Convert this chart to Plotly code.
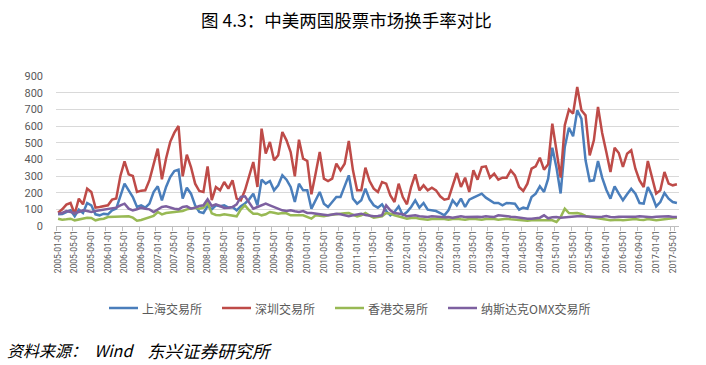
import plotly.graph_objects as go
import pandas as pd

# monthly categories 2005-01 .. 2017-06
dates = [d.strftime("%Y-%m-%d") for d in pd.date_range("2005-01-01", "2017-06-01", freq="MS")]

shanghai = [70, 72, 84, 94, 58, 98, 78, 138, 124, 70, 64, 74, 70, 94, 104, 174, 254, 214, 174, 114,
            124, 110, 134, 204, 238, 154, 234, 294, 330, 338, 164, 230, 194, 124, 84, 78, 120, 100,
            124, 118, 124, 110, 114, 94, 118, 135, 160, 194, 124, 278, 254, 270, 214, 244, 304, 278,
            234, 144, 254, 214, 214, 104, 154, 204, 134, 114, 144, 174, 174, 234, 304, 164, 134, 154,
            224, 160, 124, 110, 130, 90, 64, 84, 118, 64, 84, 114, 154, 110, 138, 98, 94, 90, 78, 64,
            94, 154, 124, 164, 114, 158, 170, 184, 194, 170, 154, 138, 138, 124, 138, 134, 134, 98,
            110, 104, 174, 194, 238, 204, 284, 470, 350, 195, 474, 590, 538, 694, 644, 394, 270, 274,
            390, 290, 218, 164, 238, 194, 154, 190, 224, 194, 138, 134, 234, 184, 118, 144, 198, 164,
            144, 138]

shenzhen = [80, 100, 128, 138, 72, 164, 130, 224, 204, 110, 114, 118, 124, 158, 165, 300, 388, 310, 300, 205,
            212, 214, 275, 370, 464, 280, 405, 505, 560, 600, 298, 428, 354, 254, 210, 204, 358, 155,
            234, 214, 264, 224, 274, 164, 154, 214, 304, 384, 234, 584, 434, 504, 394, 424, 564, 514,
            444, 298, 518, 404, 390, 190, 314, 444, 284, 270, 284, 374, 334, 374, 510, 334, 214, 214,
            350, 270, 224, 204, 264, 254, 184, 144, 254, 174, 130, 234, 310, 214, 244, 214, 230, 214,
            178, 158, 164, 244, 318, 234, 290, 204, 334, 278, 354, 358, 290, 314, 278, 290, 290, 334,
            304, 234, 210, 254, 344, 358, 410, 338, 370, 614, 450, 290, 604, 698, 674, 834, 694, 664,
            424, 514, 714, 558, 444, 324, 470, 438, 354, 434, 454, 344, 274, 234, 390, 290, 194, 214,
            324, 254, 244, 250]

hongkong = [44, 38, 40, 44, 34, 40, 44, 50, 48, 34, 40, 44, 54, 54, 54, 58, 58, 58, 50, 32,
            36, 44, 50, 60, 84, 70, 78, 80, 84, 88, 90, 100, 104, 110, 104, 110, 140, 76,
            66, 64, 70, 66, 62, 58, 100, 124, 94, 74, 74, 64, 70, 84, 80, 74, 78, 76,
            64, 66, 64, 64, 56, 44, 64, 60, 58, 64, 68, 70, 74, 76, 78, 70, 58, 64,
            78, 62, 50, 54, 58, 78, 74, 64, 58, 54, 44, 48, 50, 44, 42, 38, 42, 44,
            44, 42, 38, 42, 44, 40, 38, 42, 44, 40, 38, 42, 44, 42, 38, 40, 44, 40,
            38, 34, 36, 32, 34, 34, 36, 36, 38, 34, 24, 54, 104, 78, 76, 78, 72, 60,
            54, 50, 44, 40, 38, 34, 36, 38, 34, 36, 38, 42, 38, 36, 42, 36, 34, 38,
            40, 44, 46, 50]

nasdaq = [74, 78, 90, 86, 78, 84, 94, 90, 84, 90, 94, 98, 100, 104, 110, 124, 134, 104, 94, 100,
          110, 104, 100, 84, 100, 114, 118, 110, 104, 100, 114, 118, 104, 110, 120, 124, 160, 120,
          130, 120, 108, 110, 114, 130, 174, 178, 138, 104, 114, 124, 134, 124, 114, 104, 94, 90,
          94, 88, 84, 90, 78, 78, 76, 70, 68, 64, 70, 74, 70, 64, 58, 64, 68, 74,
          66, 62, 58, 60, 64, 124, 94, 78, 72, 70, 58, 62, 64, 58, 56, 54, 58, 56,
          50, 52, 54, 50, 54, 58, 54, 56, 58, 56, 54, 58, 56, 54, 64, 60, 58, 56,
          54, 50, 48, 44, 44, 46, 50, 64, 46, 52, 54, 50, 52, 58, 56, 58, 58, 56,
          58, 56, 54, 56, 60, 54, 52, 56, 56, 54, 52, 56, 58, 56, 54, 52, 56, 58,
          56, 58, 54, 54]

series_names = ["上海交易所", "深圳交易所", "香港交易所", "纳斯达克OMX交易所"]
series_colors = ["#4A7EBB", "#BE4B48", "#98B954", "#7D60A0"]
series_values = [shanghai, shenzhen, hongkong, nasdaq]

y_ticks = [0, 100, 200, 300, 400, 500, 600, 700, 800, 900]
x_tick_labels = dates[::4]

# plot-area geometry in pixels (for placing the hand-drawn legend)
PL, PR, PT, PB = 56, 679, 76, 226
def px_x(px):
    return (px - PL) / (PR - PL)
def px_y(py):
    return (PB - py) / (PB - PT)

fig = go.Figure()
for name, color, vals in zip(series_names, series_colors, series_values):
    fig.add_trace(go.Scatter(x=dates, y=vals, name=name, mode="lines",
                             line=dict(color=color, width=2.5), showlegend=False))

fig.update_layout(
    width=706, height=365,
    margin=dict(l=PL, r=706 - PR, t=PT, b=365 - PB),
    paper_bgcolor="white", plot_bgcolor="white",
    font=dict(family="Roboto, 'Noto Sans CJK SC'", color="#595959"),
    showlegend=False,
)

fig.update_xaxes(type="category", range=[-0.5, len(dates) - 0.5],
                 tickmode="array", tickvals=x_tick_labels, ticktext=x_tick_labels,
                 tickangle=-90, tickfont=dict(size=8.5, color="#595959"),
                 showgrid=False, showline=True, linecolor="#BFBFBF", linewidth=1,
                 ticks="outside", ticklen=4, tickcolor="#BFBFBF", tickson="boundaries",
                 zeroline=False)
fig.update_yaxes(range=[0, 900], tickmode="array", tickvals=y_ticks,
                 tickfont=dict(size=11, color="#595959"),
                 showgrid=True, gridcolor="#D9D9D9", gridwidth=1,
                 zeroline=False, showline=False, ticks="", ticklabelstandoff=12)

# legend (line sample + label), positioned like the original
legend_left_px = [109, 222, 335, 448]
legend_y = px_y(308)
for name, color, lx in zip(series_names, series_colors, legend_left_px):
    fig.add_shape(type="line", xref="paper", yref="paper",
                  x0=px_x(lx), x1=px_x(lx + 29), y0=legend_y, y1=legend_y,
                  line=dict(color=color, width=2.5))
    fig.add_annotation(text=name, xref="paper", yref="paper", x=px_x(lx + 31), y=legend_y,
                       xanchor="left", yanchor="middle", showarrow=False,
                       font=dict(size=12, color="#595959", family="'Noto Sans CJK SC'"))

fig.add_annotation(text="图 4.3：中美两国股票市场换手率对比", xref="paper", yref="paper",
                   x=px_x(346), y=1.0, yshift=57, xanchor="center", yanchor="middle", showarrow=False,
                   font=dict(size=17.5, color="#000000", family="'Noto Sans CJK SC'"))
fig.add_annotation(text="资料来源：  Wind", xref="paper", yref="paper",
                   x=px_x(5), y=px_y(350), xanchor="left", yanchor="middle", showarrow=False,
                   font=dict(size=16, color="#000000", family="'Noto Sans CJK SC'", style="italic"))
fig.add_annotation(text="东兴证券研究所", xref="paper", yref="paper",
                   x=px_x(145), y=px_y(350), xanchor="left", yanchor="middle", showarrow=False,
                   font=dict(size=17.5, color="#000000", family="'Noto Sans CJK SC'", style="italic"))

fig.write_html("out.html", config={"displayModeBar": False},
               post_script="document.body.style.margin='0px';document.body.style.overflow='hidden';")
